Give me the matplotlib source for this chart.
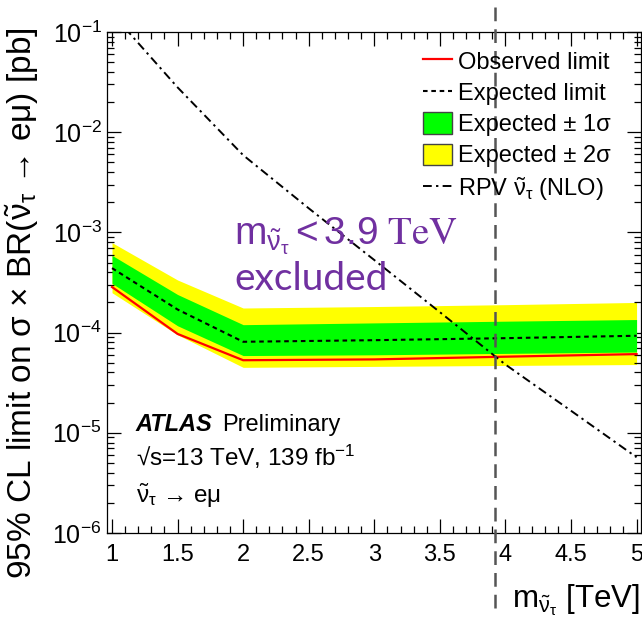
import math
import matplotlib
matplotlib.use("Agg")
import matplotlib.pyplot as plt
from matplotlib.lines import Line2D
from matplotlib.patches import Patch
from matplotlib.ticker import LogLocator, MultipleLocator, FixedLocator, FuncFormatter

plt.rcParams["font.family"] = ["Liberation Sans", "DejaVu Sans"]
plt.rcParams["mathtext.fontset"] = "custom"
plt.rcParams["mathtext.rm"] = "Liberation Sans"
plt.rcParams["mathtext.it"] = "Liberation Sans:italic"
plt.rcParams["mathtext.bf"] = "Liberation Sans:bold"
plt.rcParams["mathtext.sf"] = "Liberation Sans"
plt.rcParams["mathtext.default"] = "regular"

# Sneutrino mass points [TeV] and 95% CL limits [pb]
mass = [1.0, 1.5, 2.0, 3.0, 4.0, 5.0]
observed = [2.85e-4, 9.7e-5, 5.3e-5, 5.4e-5, 5.75e-5, 6.1e-5]
expected = [4.4e-4, 1.7e-4, 8.1e-5, 8.4e-5, 8.8e-5, 9.3e-5]
exp_1s_up = [5.9e-4, 2.4e-4, 1.2e-4, 1.25e-4, 1.3e-4, 1.35e-4]
exp_1s_dn = [3.1e-4, 1.17e-4, 5.9e-5, 6.0e-5, 6.2e-5, 6.4e-5]
exp_2s_up = [7.9e-4, 3.35e-4, 1.76e-4, 1.82e-4, 1.9e-4, 2.0e-4]
exp_2s_dn = [2.5e-4, 9.5e-5, 4.5e-5, 4.6e-5, 4.7e-5, 4.8e-5]

# RPV tau-sneutrino NLO cross section
theory_mass = [1.0, 1.5, 2.0, 2.5, 3.0, 3.5, 4.0, 4.5, 5.0]
theory_xsec = [1.53e-1, 2.8e-2, 5.9e-3, 1.74e-3, 5.3e-4, 1.6e-4, 4.8e-5, 1.66e-5, 5.7e-6]

mass_limit = 3.92
x_ticks = [1, 1.5, 2, 2.5, 3, 3.5, 4, 4.5, 5]
x_tick_labels = ["1", "1.5", "2", "2.5", "3", "3.5", "4", "4.5", "5"]

W, H = 642, 625
fig = plt.figure(figsize=(W / 100, H / 100), dpi=100)
ax = fig.add_axes([107.3 / W, 1 - 533 / H, (640.5 - 107.3) / W, (533 - 32) / H])

ax.fill_between(mass, exp_2s_dn, exp_2s_up, color="#ffff00", lw=0, zorder=1)
ax.fill_between(mass, exp_1s_dn, exp_1s_up, color="#00ff00", lw=0, zorder=2)
exp_line, = ax.plot(mass, expected, color="black", lw=1.5, zorder=3)
exp_line.set_dashes((2.2, 1.8))
ax.plot(mass, observed, color="#ff0000", lw=1.6, zorder=4)
th_line, = ax.plot(theory_mass, theory_xsec, color="black", lw=1.4, zorder=5)
th_line.set_dashes((4.5, 2.2, 1.2, 2.2))

vline = ax.axvline(mass_limit, ymin=-0.15, ymax=1.07, color="#555555", lw=1.8,
                   clip_on=False, zorder=6)
vline.set_dashes((5.5, 3.2))

ax.set_yscale("log")
ax.set_xlim(0.964, 5.03)
ax.set_ylim(1e-6, 1e-1)

ax.xaxis.set_major_locator(FixedLocator(x_ticks))
ax.set_xticklabels(x_tick_labels)
ax.xaxis.set_minor_locator(MultipleLocator(0.1))
ax.yaxis.set_major_locator(LogLocator(base=10, numticks=10))
ax.yaxis.set_minor_locator(LogLocator(base=10, subs=range(2, 10), numticks=20))
ax.yaxis.set_major_formatter(FuncFormatter(lambda v, p: r"$10^{%d}$" % round(math.log10(v))))

ax.tick_params(which="both", direction="in", top=True, right=True, width=0.9,
               colors="black")
ax.tick_params(which="major", length=10, pad=5)
ax.tick_params(which="minor", length=5)
ax.tick_params(axis="x", which="major", labelsize=17, pad=8)
ax.tick_params(axis="y", which="major", labelsize=18, pad=4)
for s in ax.spines.values():
    s.set_linewidth(0.9)

ax.set_ylabel(r"95% CL limit on σ × BR($\tilde{\nu}_{\tau}$ → eμ) [pb]", fontsize=24)
ax.yaxis.set_label_coords(-0.125, 1.01)
ax.yaxis.label.set_va("bottom")
ax.yaxis.label.set_ha("right")
ax.set_xlabel(r"$m_{\tilde{\nu}_{\tau}}$ [TeV]", fontsize=22.5)
ax.xaxis.set_label_coords(1.0, -0.148)
ax.xaxis.label.set_ha("right")
ax.xaxis.label.set_va("baseline")

handles = [
    Line2D([], [], color="#ff0000", lw=1.6),
    Line2D([], [], color="black", lw=1.5, dashes=(2.2, 1.8)),
    Patch(facecolor="#00ff00", edgecolor="#444444", lw=1.0),
    Patch(facecolor="#ffff00", edgecolor="#444444", lw=1.0),
    Line2D([], [], color="black", lw=1.4, dashes=(4.5, 2.2, 1.2, 2.2)),
]
labels = ["Observed limit", "Expected limit", "Expected ± 1σ", "Expected ± 2σ",
          r"RPV $\tilde{\nu}_{\tau}$ (NLO)"]
fig.legend(handles, labels, loc="upper left", bbox_to_anchor=(423 / W, 1 - 50 / H),
           frameon=False, fontsize=17, handlelength=1.22, handleheight=1.0,
           handletextpad=0.26, labelspacing=0.32, borderpad=0, borderaxespad=0)

fig.text(135 / W, 1 - 431 / H, "ATLAS", fontsize=17, fontweight="bold",
         fontstyle="italic", va="baseline")
fig.text(222 / W, 1 - 431 / H, "Preliminary", fontsize=17, va="baseline")
fig.text(136 / W, 1 - 466 / H, "√s=13 TeV, 139 fb$^{-1}$", fontsize=17.5, va="baseline")
fig.text(136 / W, 1 - 503 / H, r"$\tilde{\nu}_{\tau}$ → eμ", fontsize=17.5, va="baseline")

purple = "#7030A0"
fig.text(234 / W, 1 - 244 / H, r"$m_{\tilde{\nu}_{\tau}} < 3.9\ \mathrm{TeV}$",
         fontsize=28, color=purple, va="baseline", math_fontfamily="stix")
fig.text(234 / W, 1 - 290 / H, "excluded", fontsize=28, color=purple,
         va="baseline", family="Lato")

fig.savefig("out.png", dpi=100)
